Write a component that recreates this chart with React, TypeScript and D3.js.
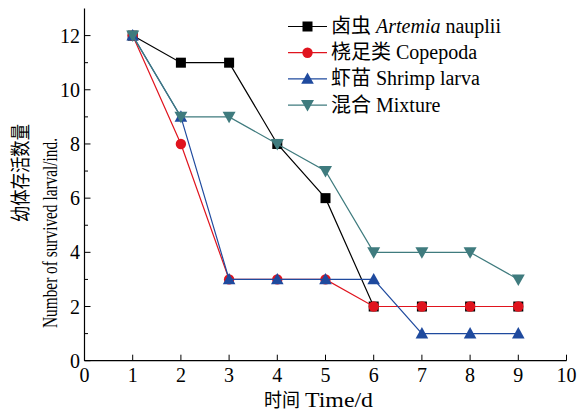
import React from "react";
import * as d3 from "d3";

const days = [1, 2, 3, 4, 5, 6, 7, 8, 9];
const artemia = [12, 11, 11, 8, 6, 2, 2, 2, 2];
const copepoda = [12, 8, 3, 3, 3, 2, 2, 2, 2];
const shrimp = [12, 9, 3, 3, 3, 3, 1, 1, 1];
const mixture = [12, 9, 9, 8, 7, 4, 4, 4, 3];
const xTicks = [0, 1, 2, 3, 4, 5, 6, 7, 8, 9, 10];
const yTicks = [0, 2, 4, 6, 8, 10, 12];
const yMinor = [1, 3, 5, 7, 9, 11];

type S = { name: string; cn: string; en: string; italic?: boolean; tail?: string; values: number[]; color: string; marker: string };
const series: S[] = [
  { name: "a", cn: "卤虫", en: "Artemia", italic: true, tail: " nauplii", values: artemia, color: "#000000", marker: "square" },
  { name: "c", cn: "桡足类", en: "Copepoda", values: copepoda, color: "#e0141e", marker: "circle" },
  { name: "s", cn: "虾苗", en: "Shrimp larva", values: shrimp, color: "#1f4a9e", marker: "tri" },
  { name: "m", cn: "混合", en: "Mixture", values: mixture, color: "#3f7b7e", marker: "triDown" },
];

const serif = "'Liberation Serif', 'Times New Roman', 'Noto Sans CJK SC', serif";
const cjk = "'Noto Sans CJK SC', sans-serif";

function Marker({ type, x, y, color }: { type: string; x: number; y: number; color: string }) {
  if (type === "square") return <rect x={x - 5} y={y - 5} width={10} height={10} fill={color} />;
  if (type === "circle") return <circle cx={x} cy={y} r={5.2} fill={color} />;
  if (type === "tri") return <path d={`M${x},${y - 6.5} L${x + 6.3},${y + 4.8} L${x - 6.3},${y + 4.8} Z`} fill={color} />;
  return <path d={`M${x},${y + 6.5} L${x + 6.5},${y - 5} L${x - 6.5},${y - 5} Z`} fill={color} />;
}

export default function App() {
  const x = d3.scaleLinear().domain([0, 10]).range([84.5, 566.5]);
  const y = d3.scaleLinear().domain([0, 13]).range([360.7, 8.5]);
  const line = d3.line<number>().x((_, i) => x(days[i])).y((v) => y(v));
  return (
    <svg width={580} height={412} style={{ position: "absolute", left: 0, top: 0, background: "#fff" }} fontFamily={serif}>
      {/* axes */}
      <line x1={x(0)} x2={x(0)} y1={y(13)} y2={y(0)} stroke="#000" strokeWidth={1.2} />
      <line x1={x(0)} x2={x(10)} y1={y(0)} y2={y(0)} stroke="#000" strokeWidth={1.2} />
      {xTicks.map((t) => (
        <g key={"x" + t}>
          <line x1={x(t)} x2={x(t)} y1={y(0)} y2={y(0) - 6} stroke="#000" strokeWidth={1} />
          <text x={x(t)} y={382} fontSize={20} textAnchor="middle">{t}</text>
        </g>
      ))}
      {yTicks.map((t) => (
        <g key={"y" + t}>
          <line x1={x(0)} x2={x(0) + 6} y1={y(t)} y2={y(t)} stroke="#000" strokeWidth={1} />
          <text x={x(0) - 4.5} y={y(t) + 7} fontSize={20} textAnchor="end">{t}</text>
        </g>
      ))}
      {yMinor.map((t) => (
        <line key={"ym" + t} x1={x(0)} x2={x(0) + 3.5} y1={y(t)} y2={y(t)} stroke="#000" strokeWidth={1} />
      ))}
      <text x={264} y={407} fontSize={19} fontFamily={cjk} textLength={36} lengthAdjust="spacingAndGlyphs">时间</text>
      <text x={305} y={407} fontSize={21} textLength={68} lengthAdjust="spacingAndGlyphs">Time/d</text>
      <text transform="translate(28,173) rotate(-90)" fontSize={20} textAnchor="middle" fontFamily={cjk} textLength={98} lengthAdjust="spacingAndGlyphs">幼体存活数量</text>
      <text transform="translate(57,233) rotate(-90)" fontSize={21} textAnchor="middle" textLength={190} lengthAdjust="spacingAndGlyphs">Number of survived larval/ind.</text>
      {/* series */}
      {series.map((s) => (
        <g key={s.name}>
          <path d={line(s.values) || ""} fill="none" stroke={s.color} strokeWidth={1.2} />
          {s.values.map((v, i) => (
            <Marker key={i} type={s.marker} x={x(days[i])} y={y(v)} color={s.color} />
          ))}
        </g>
      ))}
      {/* legend */}
      {series.map((s, i) => {
        const ly = 26.5 + i * 26.2;
        return (
          <g key={"l" + s.name}>
            <line x1={288} x2={327} y1={ly} y2={ly} stroke={s.color} strokeWidth={1.2} />
            <Marker type={s.marker} x={307.5} y={ly} color={s.color} />
            <text x={331} y={ly + 6.5} fontSize={20}>
              <tspan fontFamily={cjk}>{s.cn}</tspan>
              <tspan> </tspan>
              <tspan fontStyle={s.italic ? "italic" : "normal"}>{s.en}</tspan>
              {s.tail ? <tspan>{s.tail}</tspan> : null}
            </text>
          </g>
        );
      })}
    </svg>
  );
}
